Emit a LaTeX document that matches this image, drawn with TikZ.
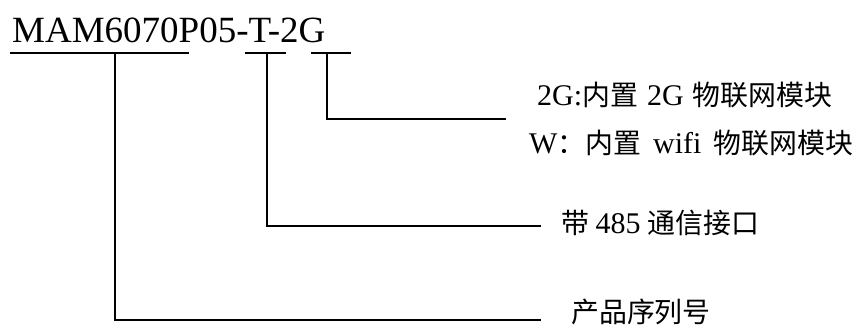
\documentclass[tikz,border=0pt]{standalone}
\usepackage{fontspec}
\setmainfont{Liberation Serif}
\newfontfamily\cjk[Scale=0.93]{Noto Sans CJK SC}
\begin{document}
\begin{tikzpicture}[x=1pt,y=-1pt,
  lead/.style={line width=1.5pt,line cap=rect},
  code/.style={anchor=base west,inner sep=0pt,font=\fontsize{37}{40}\selectfont},
  label/.style={anchor=base west,inner sep=0pt,font=\fontsize{30}{34}\selectfont}]
\useasboundingbox (0,0) rectangle (866,325);

% model code
\node[code] (title) at (12,42) {MAM6070P05-T-2G};

% underline segments marking each field of the code
\coordinate (u1a) at (11,53);  \coordinate (u1b) at (188,53);
\coordinate (u2a) at (246,53); \coordinate (u2b) at (285,53);
\coordinate (u3a) at (312,53); \coordinate (u3b) at (350,53);
\draw[lead] (u1a) -- (u1b);
\draw[lead] (u2a) -- (u2b);
\draw[lead] (u3a) -- (u3b);

% explanations
\node[label] (net)  at (537,105) {2G:{\cjk 内置}\hspace{0.3em}2G\hspace{0.3em}{\cjk 物联网模块}};
\node[label] (wifi) at (529,153) {W{\cjk ：内置}\hspace{0.4em}wifi\hspace{0.4em}{\cjk 物联网模块}};
\node[label] (rs)   at (561,233) {{\cjk 带}\hspace{0.22em}485\hspace{0.22em}{\cjk 通信接口}};
\node[label] (sn)   at (571,322) {\cjk 产品序列号};

% leader line ends
\coordinate (e3) at (505,119);
\coordinate (e2) at (540,226);
\coordinate (e1) at (540,320);

% leaders from each field to its explanation
\draw[lead] (u3a -| 327,0) |- (e3);
\draw[lead] (u2a -| 267,0) |- (e2);
\draw[lead] (u1a -| 115,0) |- (e1);
\end{tikzpicture}
\end{document}
